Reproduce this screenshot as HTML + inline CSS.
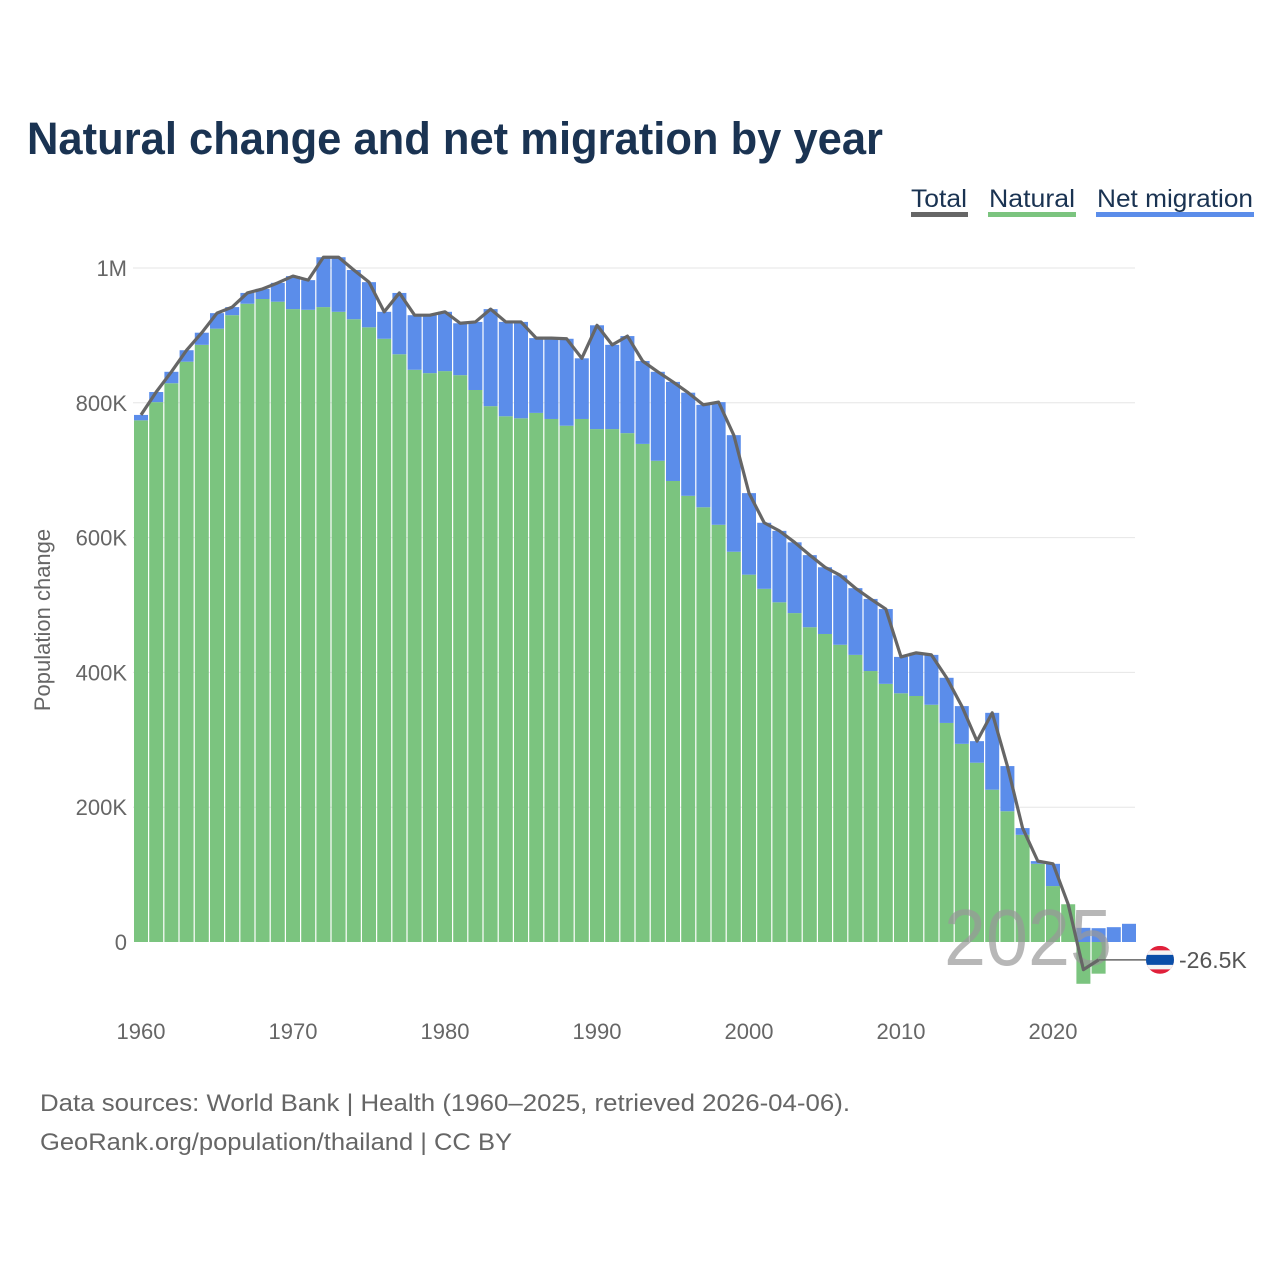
<!DOCTYPE html>
<html><head><meta charset="utf-8"><style>
html,body{margin:0;padding:0;background:#fff;width:1280px;height:1280px;overflow:hidden}
svg{display:block;font-family:"Liberation Sans",sans-serif}
</style></head><body>
<svg id="chart" width="1280" height="1280" viewBox="0 0 1280 1280">
<text x="27" y="154" font-size="45" font-weight="bold" fill="#1a3352" textLength="856" lengthAdjust="spacingAndGlyphs">Natural change and net migration by year</text>
<g>
<g><text x="911" y="207" font-size="25" fill="#1a3352" textLength="56" lengthAdjust="spacingAndGlyphs">Total</text><rect x="911" y="212" width="57" height="5" fill="#666"/></g>
<g><text x="989" y="207" font-size="25" fill="#1a3352" textLength="86" lengthAdjust="spacingAndGlyphs">Natural</text><rect x="988" y="212" width="88" height="5" fill="#7bc47f"/></g>
<g><text x="1097" y="207" font-size="25" fill="#1a3352" textLength="156" lengthAdjust="spacingAndGlyphs">Net migration</text><rect x="1096" y="212" width="158" height="5" fill="#5b8dea"/></g>
</g>
<g id="grid"></g>
<g id="bars"></g>
<text x="1028" y="965" font-size="80" fill="#999" fill-opacity="0.7" text-anchor="middle" textLength="168" lengthAdjust="spacingAndGlyphs">2025</text>
<g id="line"></g>
<g id="axes"></g>
<text transform="translate(50,620) rotate(-90)" font-size="22" fill="#666" text-anchor="middle">Population change</text>
<text x="40" y="1111" font-size="24" fill="#666" textLength="810" lengthAdjust="spacingAndGlyphs">Data sources: World Bank | Health (1960–2025, retrieved 2026-04-06).</text>
<text x="40" y="1150" font-size="24" fill="#666" textLength="472" lengthAdjust="spacingAndGlyphs">GeoRank.org/population/thailand | CC BY</text>
</svg>
<script>
const years = [];
for (let y = 1960; y <= 2025; y++) years.push(y);
const natural = [774,801,829,861,886,910,930,947,954,950,939,938,942,935,924,912,895,872,849,844,847,841,819,795,780,777,785,776,766,776,761,761,755,739,714,684,662,645,619,579,545,524,504,488,467,457,441,426,402,383,369,365,352,325,294,266,226,194,159,116,83,56,-62,-47,null,null];
const total = [782,816,846,878,904,933,942,963,969,978,988,982,1016,1016,997,979,935,963,930,930,935,918,920,939,920,920,896,896,895,866,915,886,899,862,846,831,815,797,801,752,666,622,610,593,574,556,544,525,509,494,423,429,426,392,350,298,340,261,169,120,116,56,-41,-26.5,null,null];
const netOnly = [null,null,null,null,null,null,null,null,null,null,null,null,null,null,null,null,null,null,null,null,null,null,null,null,null,null,null,null,null,null,null,null,null,null,null,null,null,null,null,null,null,null,null,null,null,null,null,null,null,null,null,null,null,null,null,null,null,null,null,null,null,null,null,null,22,27];
const yTicks = [0,200,400,600,800,1000];
const yTickLabels = ["0","200K","400K","600K","800K","1M"];
const xTicks = [1960,1970,1980,1990,2000,2010,2020];

const NS = "http://www.w3.org/2000/svg";
const yS = v => 942 - v * 0.674;
const xS = yr => 141 + (yr - 1960) * 15.2;
const BW = 14;
function mk(tag, attrs, parent) {
  const e = document.createElementNS(NS, tag);
  for (const k in attrs) e.setAttribute(k, attrs[k]);
  parent.appendChild(e);
  return e;
}
const grid = document.getElementById('grid'), axes = document.getElementById('axes');
const bars = document.getElementById('bars'), lineG = document.getElementById('line');
yTicks.forEach((t, i) => {
  const y = yS(t);
  if (t > 0) {
    const g = mk('line', {x1: 133, x2: 1135, y1: y, y2: y, stroke: '#e6e6e6', 'stroke-width': 1}, grid);
    
    
  }
  const tx = mk('text', {x: 127, y: y + 8, 'font-size': 22, fill: '#666', 'text-anchor': 'end'}, axes);
  tx.textContent = yTickLabels[i];
  
  
});
xTicks.forEach(t => {
  const tx = mk('text', {x: xS(t), y: 1039, 'font-size': 22, fill: '#666', 'text-anchor': 'middle'}, axes);
  tx.textContent = t;
  
  
});
years.forEach((yr, i) => {
  const x = xS(yr) - BW / 2;
  const n = natural[i];
  if (n !== null) {
    const r = mk('rect', {x: x, y: Math.min(yS(n), yS(0)), width: BW, height: Math.abs(yS(n) - yS(0)), fill: '#7bc47f'}, bars);
    
    
    const net = total[i] - n;
    let base, top;
    if (n >= 0) { base = n; top = total[i]; } else { base = 0; top = net; }
    const r2 = mk('rect', {x: x, y: Math.min(yS(base), yS(top)), width: BW, height: Math.abs(yS(top) - yS(base)), fill: '#5b8dea'}, bars);
    
    
  } else if (netOnly[i] !== null) {
    const r3 = mk('rect', {x: x, y: yS(netOnly[i]), width: BW, height: yS(0) - yS(netOnly[i]), fill: '#5b8dea'}, bars);
    
    
  }
});
let pts = [], last = null;
years.forEach((yr, i) => { if (total[i] !== null) { pts.push(xS(yr) + ',' + yS(total[i])); last = [xS(yr), yS(total[i])]; } });
const pl = mk('polyline', {points: pts.join(' '), fill: 'none', stroke: '#666', 'stroke-width': 3.2, 'stroke-linejoin': 'round'}, lineG);


const ld = mk('line', {x1: last[0], y1: last[1], x2: 1146, y2: last[1], stroke: '#666', 'stroke-width': 1.5}, lineG);


const fg = mk('g', {}, lineG);


const cy = last[1], cx = 1160;
const cp = mk('clipPath', {id: 'fc'}, fg);
mk('circle', {cx: cx, cy: cy, r: 14}, cp);
const fl = mk('g', {'clip-path': 'url(#fc)'}, fg);
mk('rect', {x: cx - 14, y: cy - 14, width: 28, height: 28, fill: '#e0203a'}, fl);
mk('rect', {x: cx - 14, y: cy - 9.5, width: 28, height: 19, fill: '#f4f4f4'}, fl);
mk('rect', {x: cx - 14, y: cy - 5, width: 28, height: 10, fill: '#0a4ea8'}, fl);
const lab = mk('text', {x: 1179, y: cy + 8, 'font-size': 23, fill: '#555'}, lineG);
lab.textContent = (total[63] < 0 ? '-' : '') + Math.abs(total[63]) + 'K';


</script>
</body></html>
